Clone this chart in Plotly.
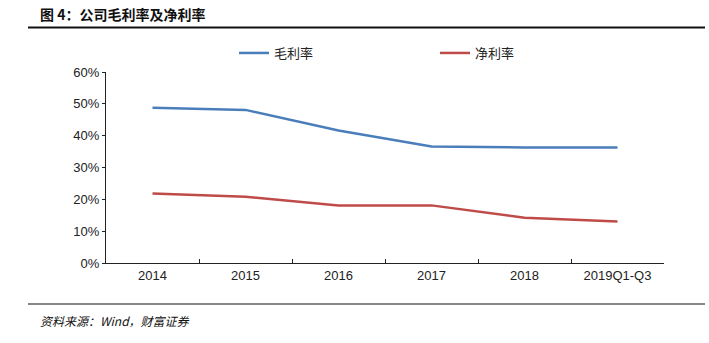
import plotly.graph_objects as go

categories = ["2014", "2015", "2016", "2017", "2018", "2019Q1-Q3"]
gross_margin = [48.8, 48.1, 41.6, 36.6, 36.3, 36.3]
net_margin = [21.8, 20.8, 18.1, 18.1, 14.2, 13.0]
y_ticks = [0, 10, 20, 30, 40, 50, 60]
y_labels = [f"{v}%" for v in y_ticks]

fig = go.Figure()
fig.add_trace(go.Scatter(x=categories, y=gross_margin, mode="lines", name="毛利率",
                         line=dict(color="#4a7ebb", width=2.5), legend="legend"))
fig.add_trace(go.Scatter(x=categories, y=net_margin, mode="lines", name="净利率",
                         line=dict(color="#be4b48", width=2.5), legend="legend2"))

leg_common = dict(orientation="h", xanchor="left", yanchor="middle",
                  y=(263 - 53) / 191, bgcolor="rgba(0,0,0,0)",
                  font=dict(family="Noto Sans CJK SC", size=13, color="#222"))

fig.update_layout(
    width=709, height=343,
    margin=dict(l=106, r=45, t=72, b=80),
    paper_bgcolor="white", plot_bgcolor="white",
    font=dict(family="Liberation Sans, Arial, Noto Sans CJK SC", size=13, color="#222"),
    showlegend=True,
    legend=dict(x=(240 - 106 - 6) / 558, **leg_common),
    legend2=dict(x=(441 - 106 - 6) / 558, **leg_common),
    xaxis=dict(type="category", showline=True, linecolor="#222", linewidth=1,
               ticks="inside", ticklen=4, tickcolor="#222", tickson="boundaries",
               showgrid=False, range=[-0.5, 5.5], zeroline=False),
    yaxis=dict(range=[0, 60], tickvals=y_ticks, ticktext=y_labels, showline=True,
               linecolor="#222", linewidth=1, ticks="outside", ticklen=3, tickcolor="#222",
               showgrid=False, zeroline=False),
)

# title and source lines
fig.add_shape(type="line", xref="paper", yref="paper",
              x0=(28 - 106) / 558, x1=(705 - 106) / 558,
              y0=(263 - 27.5) / 191, y1=(263 - 27.5) / 191,
              line=dict(color="#111", width=2))
fig.add_shape(type="line", xref="paper", yref="paper",
              x0=(28 - 106) / 558, x1=(705 - 106) / 558,
              y0=(263 - 304) / 191, y1=(263 - 304) / 191,
              line=dict(color="#111", width=1.2))
fig.add_annotation(text="<b>图 4：公司毛利率及净利率</b>", xref="paper", yref="paper",
                   x=(38 - 106) / 558, y=(263 - 14) / 191, xanchor="left", yanchor="middle",
                   showarrow=False, font=dict(family="Noto Sans CJK SC", size=14, color="#111"))
fig.add_annotation(text="<i>资料来源：Wind，财富证券</i>", xref="paper", yref="paper",
                   x=(38 - 106) / 558, y=(263 - 320) / 191, xanchor="left", yanchor="middle",
                   showarrow=False, font=dict(family="Noto Sans CJK SC", size=12, color="#111"))

fig.write_html("out.html")
